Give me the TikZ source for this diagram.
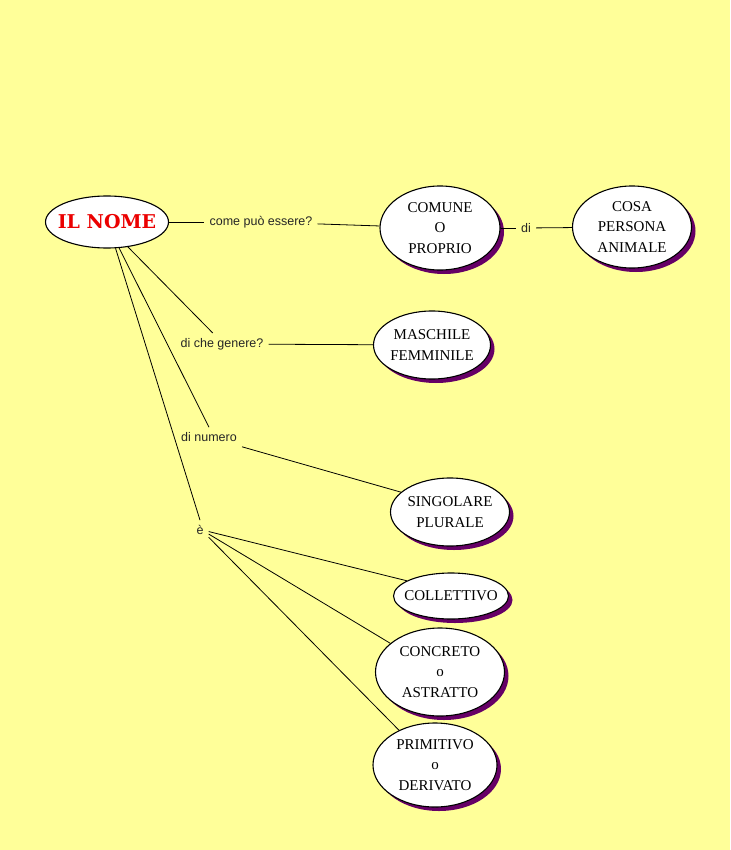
\documentclass[tikz,border=0pt]{standalone}
\usepackage{fontspec}
\setmainfont{Liberation Serif}
\setsansfont{Liberation Sans}
\newfontfamily\titolofont{DejaVu Serif}
\usetikzlibrary{shapes.geometric,shadows}

\begin{document}
\begin{tikzpicture}[
		x=1pt,
		y=-1pt,
		concetto/.style={ellipse,draw=black,line width=1.1pt,fill=white,
			inner xsep=-8pt,inner ysep=0pt,align=center,
			font=\fontsize{15}{20.5}\selectfont,
			general shadow={fill=ColoreOmbra,shadow xshift=4pt,shadow yshift=-4pt}},
		titolo/.style={ellipse,draw=black,line width=1.1pt,fill=white,
			inner xsep=-6pt,text=ColoreTitolo,
			font=\titolofont\bfseries\fontsize{19}{22}\selectfont},
		legame/.style={font=\sffamily\fontsize{12.5}{15}\selectfont,
			text=black!85,inner sep=5pt},
		linea/.style={black,line width=0.8pt}
	]
	% ===== COLORI =====
	\definecolor{ColoreSfondo}{RGB}{255,255,153}
	\definecolor{ColoreOmbra}{RGB}{102,0,102}
	\definecolor{ColoreTitolo}{RGB}{235,0,0}

	% ===== SFONDO =====
	\fill[ColoreSfondo] (0,0) rectangle (730,850);

	% ===== CONCETTI =====
	\node[titolo,minimum width=123pt,minimum height=52pt] (nome) at (107,222) {IL NOME};
	\node[concetto,minimum width=120pt,minimum height=84pt] (comune) at (440,228) {COMUNE\\O\\PROPRIO};
	\node[concetto,minimum width=119pt,minimum height=82pt] (cosa) at (632,227) {COSA\\PERSONA\\ANIMALE};
	\node[concetto,minimum width=117pt,minimum height=68pt] (maschile) at (432,345) {MASCHILE\\FEMMINILE};
	\node[concetto,minimum width=119pt,minimum height=68pt] (singolare) at (450,512) {SINGOLARE\\PLURALE};
	\node[concetto,minimum width=115pt,minimum height=46pt] (collettivo) at (451,596) {COLLETTIVO};
	\node[concetto,minimum width=129pt,minimum height=88pt] (concreto) at (440,672) {CONCRETO\\o\\ASTRATTO};
	\node[concetto,minimum width=124pt,minimum height=84pt] (primitivo) at (435,765) {PRIMITIVO\\o\\DERIVATO};

	% ===== PAROLE DI LEGAME =====
	\node[legame] (come) at (261,222) {come può essere?};
	\node[legame] (di) at (526,228) {di};
	\node[legame] (genere) at (222,344) {di che genere?};
	\node[legame] (numero) at (209,437) {di numero};
	\node[legame] (e) at (200,530) {è};

	% ===== COLLEGAMENTI =====
	\draw[linea] (nome) -- (come);
	\draw[linea] (come) -- (comune);
	\draw[linea] (comune) -- (di);
	\draw[linea] (di) -- (cosa);

	\draw[linea] (nome.-50) -- (genere.130);
	\draw[linea] (genere) -- (maschile);

	\draw[linea] (nome.-65) -- (numero.north);
	\draw[linea] (numero.south east) -- (singolare.158);

	\draw[linea] (nome.-72) -- (e.north);
	\draw[linea] (e.-10) -- (collettivo.161);
	\draw[linea] (e.-25) -- (concreto.150);
	\draw[linea] (e.-40) -- (primitivo.136);

\end{tikzpicture}
\end{document}
